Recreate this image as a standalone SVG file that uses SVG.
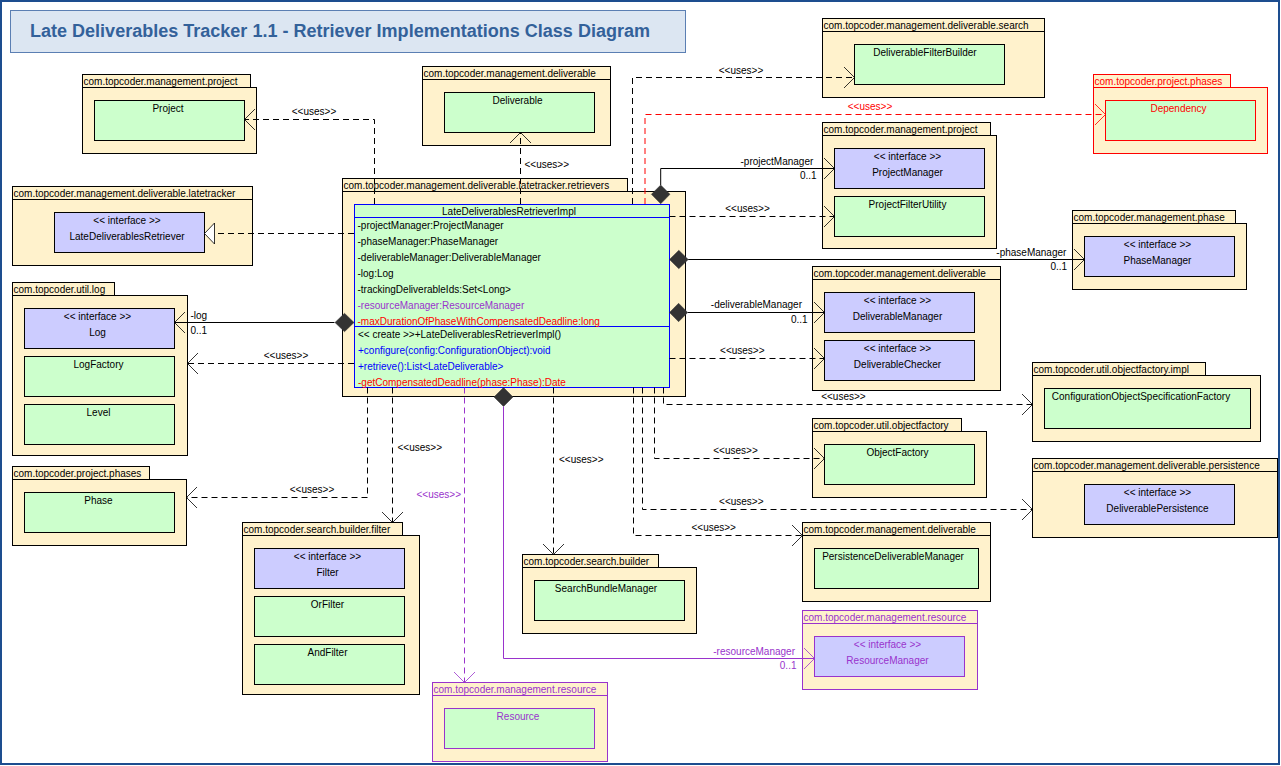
<svg xmlns="http://www.w3.org/2000/svg" width="1281" height="766" viewBox="0 0 1281 766">
<style>
.pk{fill:#FFF2CC;stroke:#000;stroke-width:1}
.pkR{fill:#FFF2CC;stroke:#f00;stroke-width:1}
.pkP{fill:#FFF2CC;stroke:#9933CC;stroke-width:1}
.cl{fill:#CCFFCC;stroke:#000;stroke-width:1}
.clR{fill:#CCFFCC;stroke:#f00;stroke-width:1}
.clP{fill:#CCFFCC;stroke:#9933CC;stroke-width:1}
.if{fill:#CCCCFF;stroke:#000;stroke-width:1}
.ifP{fill:#CCCCFF;stroke:#9933CC;stroke-width:1}
text{font-family:"Liberation Sans",Arial,sans-serif;font-size:10px;fill:#000}
.m{text-anchor:middle}
.e{text-anchor:end}
.r{fill:#f00}
.p{fill:#9933CC}
.b{fill:#00f}
.d{fill:none;stroke:#000;stroke-width:1;stroke-dasharray:6,4}
.dR{fill:none;stroke:#f00;stroke-width:1;stroke-dasharray:6,4}
.dP{fill:none;stroke:#9933CC;stroke-width:1;stroke-dasharray:6,4}
.s{fill:none;stroke:#000;stroke-width:1}
.sP{fill:none;stroke:#9933CC;stroke-width:1}
.dia{fill:#333;stroke:#333;stroke-width:0.5}
</style>
<defs>
<marker id="aB" markerUnits="userSpaceOnUse" markerWidth="14" markerHeight="24" refX="11" refY="11" orient="auto" overflow="visible"><path d="M0.5,0.5 L11,11 L0.5,21.5" fill="none" stroke="#000" stroke-width="0.8"/></marker>
<marker id="aR" markerUnits="userSpaceOnUse" markerWidth="14" markerHeight="24" refX="11" refY="11" orient="auto" overflow="visible"><path d="M0.5,0.5 L11,11 L0.5,21.5" fill="none" stroke="#f00" stroke-width="0.8"/></marker>
<marker id="aP" markerUnits="userSpaceOnUse" markerWidth="14" markerHeight="24" refX="11" refY="11" orient="auto" overflow="visible"><path d="M0.5,0.5 L11,11 L0.5,21.5" fill="none" stroke="#9933CC" stroke-width="0.8"/></marker>
</defs>
<rect x="0" y="0" width="1281" height="766" fill="#fff"/>
<rect x="1" y="1" width="1278" height="763" fill="none" stroke="#1d4d8f" stroke-width="2"/>
<g id="title">
<rect x="10.5" y="10.5" width="675" height="42" fill="#DCE6F2" stroke="#5b7fb3" stroke-width="1"/>
<text x="30" y="36.5" style="font-size:18px;font-weight:bold;fill:#33619a" textLength="620" lengthAdjust="spacingAndGlyphs">Late Deliverables Tracker 1.1 - Retriever Implementations Class Diagram</text>
</g>

<g id="pkg-management-project-1">
<rect class="pk" x="82.5" y="74.5" width="168" height="13"/>
<rect class="pk" x="82.5" y="87.5" width="174" height="66"/>
<text x="83.5" y="85">com.topcoder.management.project</text>
<g id="cls-Project"><rect class="cl" x="94.5" y="100.5" width="150" height="40"/><text class="m" x="168" y="111.5">Project</text></g>
</g>

<g id="pkg-latetracker">
<rect class="pk" x="12.5" y="186.5" width="240" height="13"/>
<rect class="pk" x="12.5" y="199.5" width="240" height="66"/>
<text x="13.5" y="197">com.topcoder.management.deliverable.latetracker</text>
<g id="ifc-LateDeliverablesRetriever"><rect class="if" x="54.5" y="212.5" width="150" height="40"/><text class="m" x="127" y="223.5">&lt;&lt; interface &gt;&gt;</text><text class="m" x="127" y="239.5">LateDeliverablesRetriever</text></g>
</g>

<g id="pkg-util-log">
<rect class="pk" x="12.5" y="282.5" width="102" height="13"/>
<rect class="pk" x="12.5" y="295.5" width="175" height="160"/>
<text x="13.5" y="293">com.topcoder.util.log</text>
<g id="ifc-Log"><rect class="if" x="24.5" y="308.5" width="150" height="40"/><text class="m" x="97.5" y="319.5">&lt;&lt; interface &gt;&gt;</text><text class="m" x="97.5" y="335.5">Log</text></g>
<g id="cls-LogFactory"><rect class="cl" x="24.5" y="356.5" width="150" height="40"/><text class="m" x="98.5" y="367.5">LogFactory</text></g>
<g id="cls-Level"><rect class="cl" x="24.5" y="404.5" width="150" height="40"/><text class="m" x="98.5" y="415.5">Level</text></g>
</g>

<g id="pkg-project-phases-1">
<rect class="pk" x="12.5" y="466.5" width="137" height="13"/>
<rect class="pk" x="12.5" y="479.5" width="174" height="66"/>
<text x="13.5" y="477">com.topcoder.project.phases</text>
<g id="cls-Phase"><rect class="cl" x="24.5" y="492.5" width="150" height="40"/><text class="m" x="98.5" y="503.5">Phase</text></g>
</g>

<g id="pkg-search-builder-filter">
<rect class="pk" x="242.5" y="522.5" width="160" height="13"/>
<rect class="pk" x="242.5" y="535.5" width="177" height="159"/>
<text x="243.5" y="533">com.topcoder.search.builder.filter</text>
<g id="ifc-Filter"><rect class="if" x="254.5" y="548.5" width="150" height="40"/><text class="m" x="327.5" y="559.5">&lt;&lt; interface &gt;&gt;</text><text class="m" x="327.5" y="575.5">Filter</text></g>
<g id="cls-OrFilter"><rect class="cl" x="254.5" y="596.5" width="150" height="40"/><text class="m" x="327.5" y="607.5">OrFilter</text></g>
<g id="cls-AndFilter"><rect class="cl" x="254.5" y="644.5" width="150" height="40"/><text class="m" x="327.5" y="655.5">AndFilter</text></g>
</g>

<g id="pkg-management-resource-1">
<rect class="pkP" x="432.5" y="682.5" width="175" height="13"/>
<rect class="pkP" x="432.5" y="695.5" width="175" height="66"/>
<text class="p" x="433.5" y="693">com.topcoder.management.resource</text>
<g id="cls-Resource"><rect class="clP" x="444.5" y="708.5" width="150" height="40"/><text class="m p" x="518" y="719.5">Resource</text></g>
</g>

<g id="pkg-search-builder">
<rect class="pk" x="522.5" y="554.5" width="136" height="13"/>
<rect class="pk" x="522.5" y="567.5" width="174" height="66"/>
<text x="523.5" y="565">com.topcoder.search.builder</text>
<g id="cls-SearchBundleManager"><rect class="cl" x="534.5" y="580.5" width="150" height="40"/><text class="m" x="606" y="591.5">SearchBundleManager</text></g>
</g>

<g id="pkg-retrievers">
<rect class="pk" x="342.5" y="178.5" width="285" height="13"/>
<rect class="pk" x="342.5" y="191.5" width="343" height="205"/>
<text x="343.5" y="189">com.topcoder.management.deliverable.latetracker.retrievers</text>
<g id="cls-LateDeliverablesRetrieverImpl">
<rect x="354.5" y="204.5" width="315" height="183" fill="#CCFFCC" stroke="#00f" stroke-width="1"/>
<line x1="354.5" y1="217.5" x2="669.5" y2="217.5" stroke="#00f" stroke-width="1"/>
<line x1="354.5" y1="326.5" x2="669.5" y2="326.5" stroke="#00f" stroke-width="1"/>
<text class="m" x="509" y="215">LateDeliverablesRetrieverImpl</text>
<text x="357.5" y="228.5">-projectManager:ProjectManager</text>
<text x="357.5" y="244.5">-phaseManager:PhaseManager</text>
<text x="357.5" y="260.5">-deliverableManager:DeliverableManager</text>
<text x="357.5" y="276.5">-log:Log</text>
<text x="357.5" y="292.5">-trackingDeliverableIds:Set&lt;Long&gt;</text>
<text class="p" x="357.5" y="308.5">-resourceManager:ResourceManager</text>
<text class="r" x="357.5" y="324.5">-maxDurationOfPhaseWithCompensatedDeadline:long</text>
<text x="358" y="337.5">&lt;&lt; create &gt;&gt;+LateDeliverablesRetrieverImpl()</text>
<text class="b" x="358" y="353.5">+configure(config:ConfigurationObject):void</text>
<text class="b" x="358" y="369.5">+retrieve():List&lt;LateDeliverable&gt;</text>
<text class="r" x="358" y="385.5">-getCompensatedDeadline(phase:Phase):Date</text>
</g>
</g>

<g id="pkg-management-deliverable-1">
<rect class="pk" x="422.5" y="66.5" width="188" height="13"/>
<rect class="pk" x="422.5" y="79.5" width="188" height="66"/>
<text x="423.5" y="77">com.topcoder.management.deliverable</text>
<g id="cls-Deliverable"><rect class="cl" x="444.5" y="92.5" width="150" height="40"/><text class="m" x="517.5" y="103.5">Deliverable</text></g>
</g>

<g id="pkg-deliverable-search">
<rect class="pk" x="822.5" y="18.5" width="222" height="13"/>
<rect class="pk" x="822.5" y="31.5" width="222" height="66"/>
<text x="823.5" y="29">com.topcoder.management.deliverable.search</text>
<g id="cls-DeliverableFilterBuilder"><rect class="cl" x="854.5" y="44.5" width="150" height="40"/><text class="m" x="925" y="55.5">DeliverableFilterBuilder</text></g>
</g>

<g id="pkg-project-phases-2">
<rect class="pkR" x="1093.5" y="74.5" width="137" height="13"/>
<rect class="pkR" x="1093.5" y="87.5" width="174" height="66"/>
<text class="r" x="1094.5" y="85">com.topcoder.project.phases</text>
<g id="cls-Dependency"><rect class="clR" x="1105.5" y="100.5" width="150" height="40"/><text class="m r" x="1178.5" y="111.5">Dependency</text></g>
</g>

<g id="pkg-management-project-2">
<rect class="pk" x="822.5" y="122.5" width="168" height="13"/>
<rect class="pk" x="822.5" y="135.5" width="174" height="113"/>
<text x="823.5" y="133">com.topcoder.management.project</text>
<g id="ifc-ProjectManager"><rect class="if" x="834.5" y="148.5" width="150" height="40"/><text class="m" x="907.5" y="159.5">&lt;&lt; interface &gt;&gt;</text><text class="m" x="907.5" y="175.5">ProjectManager</text></g>
<g id="cls-ProjectFilterUtility"><rect class="cl" x="834.5" y="196.5" width="150" height="40"/><text class="m" x="907.5" y="207.5">ProjectFilterUtility</text></g>
</g>

<g id="pkg-management-phase">
<rect class="pk" x="1072.5" y="210.5" width="163" height="13"/>
<rect class="pk" x="1072.5" y="223.5" width="174" height="66"/>
<text x="1073.5" y="221">com.topcoder.management.phase</text>
<g id="ifc-PhaseManager"><rect class="if" x="1084.5" y="236.5" width="150" height="40"/><text class="m" x="1157.5" y="247.5">&lt;&lt; interface &gt;&gt;</text><text class="m" x="1157.5" y="263.5">PhaseManager</text></g>
</g>

<g id="pkg-management-deliverable-2">
<rect class="pk" x="812.5" y="266.5" width="188" height="13"/>
<rect class="pk" x="812.5" y="279.5" width="188" height="111"/>
<text x="813.5" y="277">com.topcoder.management.deliverable</text>
<g id="ifc-DeliverableManager"><rect class="if" x="824.5" y="292.5" width="150" height="40"/><text class="m" x="897.5" y="303.5">&lt;&lt; interface &gt;&gt;</text><text class="m" x="897.5" y="319.5">DeliverableManager</text></g>
<g id="ifc-DeliverableChecker"><rect class="if" x="824.5" y="340.5" width="150" height="40"/><text class="m" x="897.5" y="351.5">&lt;&lt; interface &gt;&gt;</text><text class="m" x="897.5" y="367.5">DeliverableChecker</text></g>
</g>

<g id="pkg-objectfactory-impl">
<rect class="pk" x="1032.5" y="362.5" width="173" height="13"/>
<rect class="pk" x="1032.5" y="375.5" width="228" height="66"/>
<text x="1033.5" y="373">com.topcoder.util.objectfactory.impl</text>
<g id="cls-ConfigurationObjectSpecificationFactory"><rect class="cl" x="1044.5" y="388.5" width="206" height="40"/><text class="m" x="1141" y="399.5">ConfigurationObjectSpecificationFactory</text></g>
</g>

<g id="pkg-objectfactory">
<rect class="pk" x="812.5" y="418.5" width="149" height="13"/>
<rect class="pk" x="812.5" y="431.5" width="174" height="66"/>
<text x="813.5" y="429">com.topcoder.util.objectfactory</text>
<g id="cls-ObjectFactory"><rect class="cl" x="824.5" y="444.5" width="150" height="40"/><text class="m" x="897.5" y="455.5">ObjectFactory</text></g>
</g>

<g id="pkg-deliverable-persistence">
<rect class="pk" x="1032.5" y="458.5" width="245" height="13"/>
<rect class="pk" x="1032.5" y="471.5" width="245" height="66"/>
<text x="1033.5" y="469">com.topcoder.management.deliverable.persistence</text>
<g id="ifc-DeliverablePersistence"><rect class="if" x="1084.5" y="484.5" width="150" height="40"/><text class="m" x="1157.5" y="495.5">&lt;&lt; interface &gt;&gt;</text><text class="m" x="1157.5" y="511.5">DeliverablePersistence</text></g>
</g>

<g id="pkg-management-deliverable-3">
<rect class="pk" x="802.5" y="522.5" width="188" height="13"/>
<rect class="pk" x="802.5" y="535.5" width="188" height="66"/>
<text x="803.5" y="533">com.topcoder.management.deliverable</text>
<g id="cls-PersistenceDeliverableManager"><rect class="cl" x="814.5" y="548.5" width="164" height="40"/><text class="m" x="893" y="559.5">PersistenceDeliverableManager</text></g>
</g>

<g id="pkg-management-resource-2">
<rect class="pkP" x="802.5" y="610.5" width="175" height="13"/>
<rect class="pkP" x="802.5" y="623.5" width="175" height="66"/>
<text class="p" x="803.5" y="621">com.topcoder.management.resource</text>
<g id="ifc-ResourceManager"><rect class="ifP" x="814.5" y="636.5" width="150" height="40"/><text class="m p" x="887.5" y="647.5">&lt;&lt; interface &gt;&gt;</text><text class="m p" x="887.5" y="663.5">ResourceManager</text></g>
</g>

<g id="connectors">
<path class="d" d="M374.5,204 V119.5 H244.5" marker-end="url(#aB)"/>
<text class="m" x="314" y="115">&lt;&lt;uses&gt;&gt;</text>

<path class="d" d="M354,233.5 H214.5"/>
<polygon points="204.5,233.5 214.5,223 214.5,244" fill="#fff" stroke="#000" stroke-width="0.8"/>

<path class="s" d="M334.5,322.5 H174.5" marker-end="url(#aB)"/>
<polygon class="dia" points="354,322.5 344.5,313.3 335,322.5 344.5,331.7"/>
<text x="190.5" y="318.5">-log</text>
<text x="190.5" y="333.5">0..1</text>

<path class="d" d="M354,363.5 H187.5" marker-end="url(#aB)"/>
<text class="m" x="286" y="359">&lt;&lt;uses&gt;&gt;</text>

<path class="d" d="M367.5,387.5 V497.5 H186.5" marker-end="url(#aB)"/>
<text class="m" x="312" y="493">&lt;&lt;uses&gt;&gt;</text>

<path class="d" d="M392.5,387.5 V522.5" marker-end="url(#aB)"/>
<text x="397.5" y="451">&lt;&lt;uses&gt;&gt;</text>

<path class="dP" d="M464.5,387.5 V682.5" marker-end="url(#aP)"/>
<text class="p" x="416.5" y="498">&lt;&lt;uses&gt;&gt;</text>

<polygon class="dia" points="503.5,387.5 513,397 503.5,406.5 494,397"/>
<path class="sP" d="M503.5,406.5 V658.5 H814.5" marker-end="url(#aP)"/>
<text class="e p" x="795" y="654.5">-resourceManager</text>
<text class="e p" x="796.5" y="669">0..1</text>

<path class="d" d="M520.5,204 V132.5" marker-end="url(#aB)"/>
<text x="524.5" y="168">&lt;&lt;uses&gt;&gt;</text>

<path class="d" d="M632.5,204 V77.5 H854.5" marker-end="url(#aB)"/>
<text class="m" x="741" y="73.5">&lt;&lt;uses&gt;&gt;</text>

<path class="dR" d="M645,204 V114.5 H1105.5" marker-end="url(#aR)"/>
<text class="m r" x="870" y="110">&lt;&lt;uses&gt;&gt;</text>

<polygon class="dia" points="660.7,185 670,194.3 660.7,203.8 651.4,194.3"/>
<path class="s" d="M660.7,185 V168.5 H834.5" marker-end="url(#aB)"/>
<text class="e" x="813.3" y="164.5">-projectManager</text>
<text class="e" x="816.7" y="179">0..1</text>

<path class="d" d="M669.5,216.5 H834.5" marker-end="url(#aB)"/>
<text class="m" x="747.5" y="212">&lt;&lt;uses&gt;&gt;</text>

<polygon class="dia" points="669.5,259.5 678.8,250.3 688.2,259.5 678.8,268.7"/>
<path class="s" d="M688.2,259.5 H1084.5" marker-end="url(#aB)"/>
<text class="e" x="1066.4" y="255.5">-phaseManager</text>
<text class="e" x="1067.2" y="270">0..1</text>

<polygon class="dia" points="669.5,312.5 678.6,303.3 687.7,312.5 678.6,321.7"/>
<path class="s" d="M687.7,312.5 H824.5" marker-end="url(#aB)"/>
<text class="e" x="802" y="308">-deliverableManager</text>
<text class="e" x="807.6" y="323">0..1</text>

<path class="d" d="M669.5,358.5 H824.5" marker-end="url(#aB)"/>
<text class="m" x="742.3" y="354">&lt;&lt;uses&gt;&gt;</text>

<path class="d" d="M663.5,387.5 V404.5 H1032.5" marker-end="url(#aB)"/>
<text class="m" x="843.4" y="400">&lt;&lt;uses&gt;&gt;</text>

<path class="d" d="M654.5,387.5 V458.5 H824.5" marker-end="url(#aB)"/>
<text class="m" x="735.5" y="454">&lt;&lt;uses&gt;&gt;</text>

<path class="d" d="M642.5,387.5 V509.5 H1032.5" marker-end="url(#aB)"/>
<text class="m" x="741.3" y="505">&lt;&lt;uses&gt;&gt;</text>

<path class="d" d="M633.5,387.5 V535.5 H802.5" marker-end="url(#aB)"/>
<text class="m" x="713.7" y="531">&lt;&lt;uses&gt;&gt;</text>

<path class="d" d="M553.5,387.5 V554.5" marker-end="url(#aB)"/>
<text x="559" y="463">&lt;&lt;uses&gt;&gt;</text>
</g>
</svg>
